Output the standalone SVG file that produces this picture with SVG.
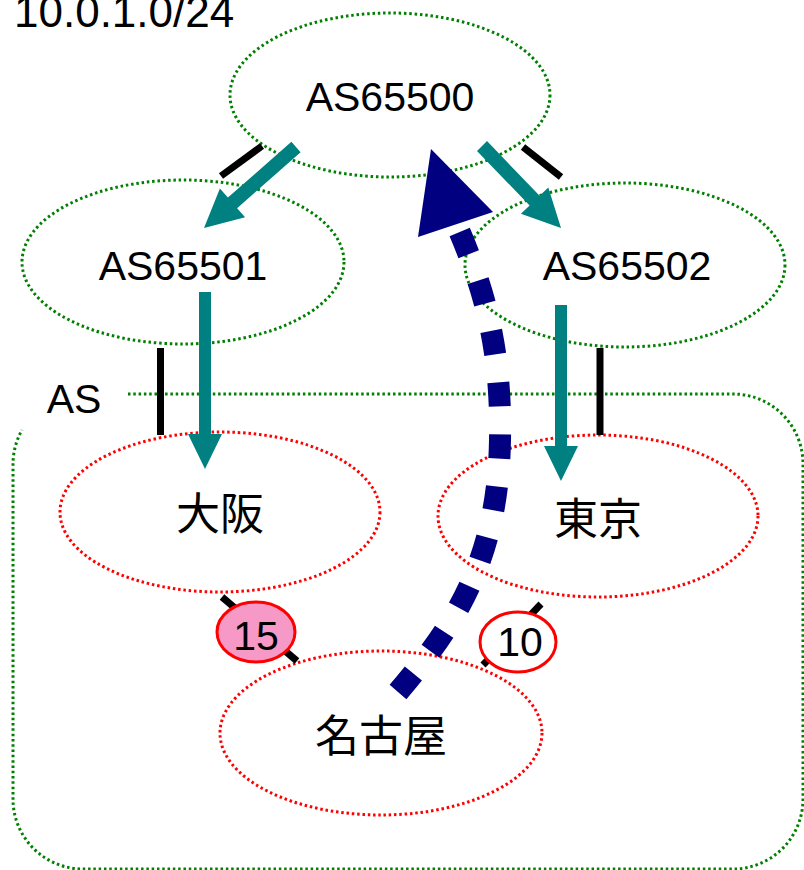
<svg xmlns="http://www.w3.org/2000/svg" width="804" height="870" viewBox="0 0 804 870">
<style>
.g{fill:none;stroke:#008000;stroke-width:3;stroke-dasharray:2.5 2.8}
.r{fill:none;stroke:#ff0000;stroke-width:3;stroke-dasharray:2.5 2.8}
.bk{stroke:#000;stroke-width:7;fill:none}
.teal{fill:#008080}
.t{font-family:"Liberation Sans",Arial,sans-serif;font-size:41px;fill:#000;text-anchor:middle}
.cjk{font-family:"Noto Sans CJK JP","Noto Sans CJK SC",sans-serif;font-size:44px;fill:#000;text-anchor:middle}
</style>
<rect width="804" height="870" fill="#fff"/>
<g id="as-region">
<path class="g" d="M128,394 H733 A70,70 0 0 1 803,464 V799 A70,70 0 0 1 733,869 H83 A70,70 0 0 1 13,799 V464 A70,70 0 0 1 22,430"/>
<text class="t" x="74" y="413">AS</text>
</g>
<text class="t" x="14" y="27" style="text-anchor:start;font-size:44px">10.0.1.0/24</text>
<g id="as65500"><ellipse class="g" cx="390" cy="95" rx="160" ry="82"/></g>
<g id="as65501"><ellipse class="g" cx="183" cy="262" rx="161" ry="82"/></g>
<g id="as65502"><ellipse class="g" cx="625" cy="265" rx="160" ry="82"/></g>
<g id="osaka"><ellipse class="r" cx="220" cy="512" rx="160" ry="80"/></g>
<g id="tokyo"><ellipse class="r" cx="598" cy="516" rx="160" ry="81"/></g>
<g id="nagoya"><ellipse class="r" cx="381" cy="733" rx="161" ry="82"/></g>
<g id="connectors">
<line class="bk" x1="262" y1="146" x2="221" y2="176"/>
<line class="bk" x1="523" y1="147" x2="561" y2="177"/>
<line class="bk" x1="160.5" y1="348" x2="160.5" y2="435"/>
<line class="bk" x1="600" y1="348" x2="600" y2="435"/>
<line class="bk" x1="222" y1="597" x2="297" y2="661"/>
<line class="bk" x1="541" y1="604" x2="483" y2="665"/>
<polygon class="teal" points="291.4,141.8 227.9,197.6 219.9,188.6 204,228 245.1,217.2 237.1,208.2 300.6,152.3"/>
<polygon class="teal" points="487,141.1 539.6,195.7 548.3,187.4 561,228 520.9,213.8 529.6,205.5 477,150.9"/>
<polygon class="teal" points="199,292 211,292 211,434 222,434 205,469 188,434 199,434"/>
<polygon class="teal" points="555,305 567,305 567,446 578,446 561,481 544,446 555,446"/>
<path d="M398,692 C455,625 498,560 500,440 C502,340 480,280 458,228" fill="none" stroke="#000080" stroke-width="22" stroke-dasharray="24 28"/>
<polygon fill="#000080" points="431,149 418,237 493,212"/>
</g>
<g id="cost15"><ellipse cx="256" cy="632" rx="39" ry="30" fill="#f799c6" stroke="#ff0000" stroke-width="3"/><text class="t" x="256" y="650">15</text></g>
<g id="cost10"><ellipse cx="518" cy="642" rx="38" ry="30" fill="#fff" stroke="#ff0000" stroke-width="3"/><text class="t" x="520" y="656">10</text></g>
<g id="labels">
<text class="t" x="390" y="111">AS65500</text>
<text class="t" x="183" y="280">AS65501</text>
<text class="t" x="627" y="280">AS65502</text>
<text class="cjk" x="220" y="530">大阪</text>
<text class="cjk" x="598" y="535">東京</text>
<text class="cjk" x="381" y="752">名古屋</text>
</g>
</svg>
